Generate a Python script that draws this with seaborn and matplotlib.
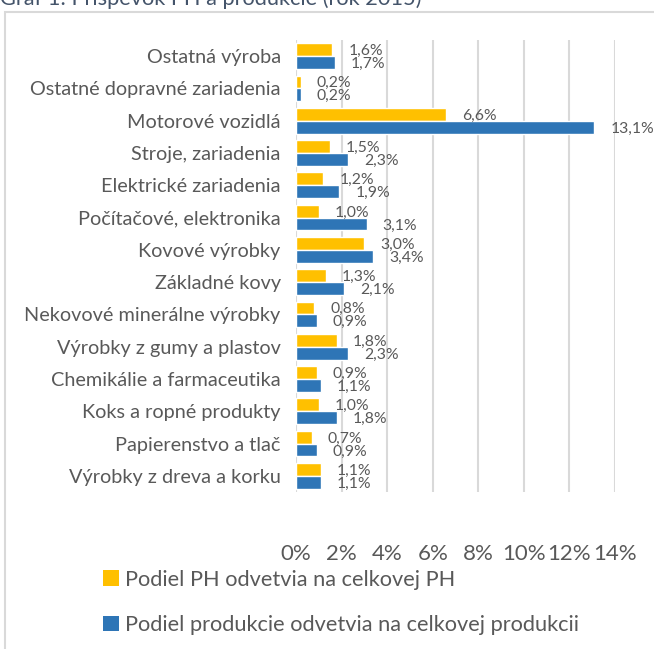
import pandas as pd
import matplotlib.pyplot as plt
import seaborn as sns
from matplotlib.patches import Rectangle, Patch

# data (top to bottom)
odvetvia = ['Ostatná výroba', 'Ostatné dopravné zariadenia', 'Motorové vozidlá',
            'Stroje, zariadenia', 'Elektrické zariadenia', 'Počítačové, elektronika',
            'Kovové výrobky', 'Základné kovy', 'Nekovové minerálne výrobky',
            'Výrobky z gumy a plastov', 'Chemikálie a farmaceutika',
            'Koks a ropné produkty', 'Papierenstvo a tlač', 'Výrobky z dreva a korku']
podiel_ph = [1.6, 0.2, 6.6, 1.5, 1.2, 1.0, 3.0, 1.3, 0.8, 1.8, 0.9, 1.0, 0.7, 1.1]
podiel_produkcie = [1.7, 0.2, 13.1, 2.3, 1.9, 3.1, 3.4, 2.1, 0.9, 2.3, 1.1, 1.8, 0.9, 1.1]
serie = ['Podiel PH odvetvia na celkovej PH', 'Podiel produkcie odvetvia na celkovej produkcii']
x_ticks = [0, 2, 4, 6, 8, 10, 12, 14]

farby = ['#FFC000', '#2E75B6']
text_col = '#595959'


def nakresli():
    df = pd.DataFrame({
        'odvetvie': odvetvia * 2,
        'hodnota': podiel_ph + podiel_produkcie,
        'seria': [serie[0]] * len(odvetvia) + [serie[1]] * len(odvetvia),
    })

    sns.set_theme(style='white')
    plt.rcParams['font.family'] = ['Lato', 'DejaVu Sans']

    fig = plt.figure(figsize=(6.54, 6.49), dpi=100)
    ax = fig.add_axes([296 / 654, 1 - 492 / 649, (615 - 296) / 654, (492 - 40) / 649])

    sns.barplot(data=df, x='hodnota', y='odvetvie', hue='seria', hue_order=serie,
                order=odvetvia, palette=farby, orient='h', width=0.8, ax=ax,
                legend=False, saturation=1, errorbar=None, zorder=3)

    for cont in ax.containers:
        for bar in cont:
            w = bar.get_width()
            ax.annotate(f'{w:.1f}%'.replace('.', ','),
                        (w, bar.get_y() + bar.get_height() / 2),
                        xytext=(11.5, -1), textcoords='offset points',
                        va='center', ha='left', fontsize=11.3, color=text_col,
                        annotation_clip=False)

    ax.set_xlim(0, 14)
    ax.set_xticks(x_ticks)
    ax.set_xticklabels([f'{t}%' for t in x_ticks])
    ax.tick_params(axis='x', length=0, pad=37.5, labelsize=16, labelcolor=text_col)
    ax.tick_params(axis='y', length=0, pad=11, labelsize=14.3, labelcolor=text_col)
    ax.set_xlabel('')
    ax.set_ylabel('')
    ax.grid(axis='x', color='#D9D9D9', linewidth=1.5, zorder=0)
    for s in ax.spines.values():
        s.set_visible(False)

    # ramcek grafu (vpravo a dole orezany ako v predlohe)
    fig.patches.append(Rectangle((5 / 654, -0.1), 1.2, 1 - 12 / 649 + 0.1,
                                 transform=fig.transFigure, fill=False,
                                 edgecolor='#D9D9D9', linewidth=1.5))
    fig.text(0.0, 1 - 5 / 649, 'Graf 1: Príspevok PH a produkcie (rok 2015)',
             ha='left', va='baseline', fontsize=15.7, color='#44546A')

    handles = [Patch(facecolor=f, edgecolor='none') for f in farby]
    fig.legend(handles, serie, loc='upper left', bbox_to_anchor=(94 / 654, 1 - 561 / 649),
               frameon=False, fontsize=15.7, labelcolor=text_col, handlelength=0.75,
               handleheight=0.7, handletextpad=0.25, labelspacing=1.15, borderaxespad=0)

    fig.savefig('out.png', dpi=100)


if __name__ == '__main__':
    nakresli()
